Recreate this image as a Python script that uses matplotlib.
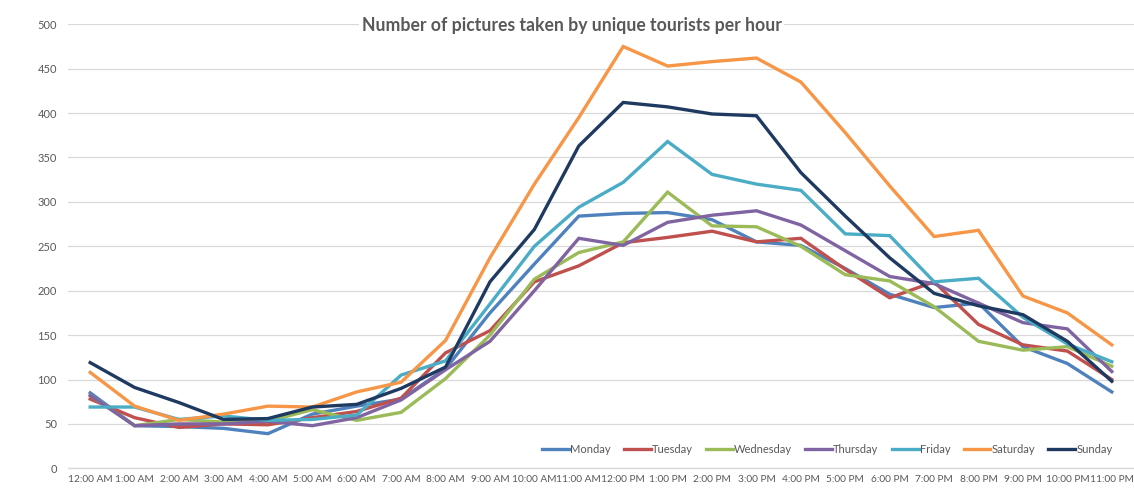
import matplotlib
matplotlib.use("Agg")
import matplotlib.pyplot as plt

plt.rcParams["font.family"] = ["Lato", "DejaVu Sans"]

# Horas del día (eje de categorías)
horas = ["12:00 AM"] + [f"{h}:00 AM" for h in range(1, 12)] + \
        ["12:00 PM"] + [f"{h}:00 PM" for h in range(1, 12)]

# Fotos por hora para cada día de la semana
lunes = [85, 48, 47, 45, 39, 61, 70, 78, 112, 175, 230, 284,
         287, 288, 280, 255, 251, 225, 196, 181, 186, 137, 118, 86]
martes = [78, 57, 46, 50, 49, 57, 64, 79, 130, 155, 210, 228,
          254, 260, 267, 255, 259, 224, 192, 210, 162, 139, 132, 100]
miercoles = [82, 48, 55, 52, 53, 66, 54, 63, 101, 150, 213, 243,
             255, 311, 273, 272, 250, 218, 211, 182, 143, 133, 137, 115]
jueves = [82, 48, 50, 50, 53, 48, 57, 77, 111, 143, 200, 259,
          251, 277, 285, 290, 274, 245, 216, 208, 186, 164, 157, 109]
viernes = [69, 69, 55, 59, 54, 55, 60, 105, 121, 185, 250, 294,
           322, 368, 331, 320, 313, 264, 262, 210, 214, 170, 140, 120]
sabado = [108, 70, 54, 61, 70, 69, 86, 97, 144, 237, 320, 395,
          475, 453, 458, 462, 435, 378, 318, 261, 268, 194, 175, 139]
domingo = [119, 91, 74, 55, 56, 69, 72, 90, 114, 210, 269, 363,
           412, 407, 399, 397, 333, 284, 237, 197, 183, 173, 143, 98]

dias = ["Monday", "Tuesday", "Wednesday", "Thursday", "Friday", "Saturday", "Sunday"]
series = [lunes, martes, miercoles, jueves, viernes, sabado, domingo]
colores = ["#4F81BD", "#C0504D", "#9BBB59", "#8064A2", "#4BACC6", "#F79646", "#1F3A60"]

gris_texto = "#595959"
gris_rejilla = "#D9D9D9"

fig = plt.figure(figsize=(11.34, 4.9), dpi=100)
ax = fig.add_axes([68 / 1134, 1 - 468.3 / 490, 1066 / 1134, 444 / 490])

x = list(range(len(horas)))
for nombre, valores, color in zip(dias, series, colores):
    ax.plot(x, valores, color=color, linewidth=2.4, label=nombre,
            solid_joinstyle="miter")

ax.set_xlim(-0.5, len(horas) - 0.5)
ax.set_ylim(0, 500)
ax.set_yticks(range(0, 501, 50))
ax.set_xticks(x)
ax.set_xticklabels(horas)

ax.grid(axis="y", color=gris_rejilla, linewidth=0.9)
ax.set_axisbelow(True)
for lado in ["top", "right", "left"]:
    ax.spines[lado].set_visible(False)
ax.spines["bottom"].set_color(gris_rejilla)
ax.spines["bottom"].set_linewidth(1.0)

ax.tick_params(axis="both", length=0, colors=gris_texto)
ax.tick_params(axis="y", pad=8, labelsize=8)
ax.tick_params(axis="x", pad=5, labelsize=7.3)

# Título sobre la rejilla con fondo blanco
fig.text(0.504, 1 - 25 / 490, "Number of pictures taken by unique tourists per hour",
         ha="center", va="center", fontsize=12.7, fontweight="bold", color=gris_texto,
         bbox=dict(facecolor="white", edgecolor="none", pad=1.5), zorder=10)

leg = ax.legend(loc="center right", bbox_to_anchor=(1118 / 1134, 1 - 449 / 490),
                bbox_transform=fig.transFigure, ncol=7, frameon=False,
                fontsize=8, handlelength=2.4, handletextpad=0.1,
                columnspacing=1.2, borderpad=0)
for t in leg.get_texts():
    t.set_color(gris_texto)

fig.savefig("out.png", dpi=100, facecolor="white")
